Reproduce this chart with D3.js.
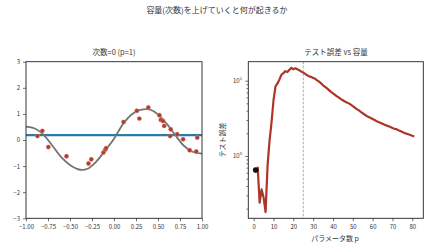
<!DOCTYPE html>
<html>
<head>
<meta charset="utf-8" />
<title></title>
<style>
html, body {
    padding: 0px;
    margin: 0px;
    background: #fff;
}
text {
    font-family: "Noto Sans CJK JP", "DejaVu Sans", sans-serif;
    fill: #333;
}
</style>
</head>
<body>
<svg id="chart" width="434" height="252"></svg>
<script src="https://cdnjs.cloudflare.com/ajax/libs/d3/7.8.5/d3.min.js"></script>
<script>
!(function(){
    "use strict"

    // --- data ---
    var trueX = [-1.0,-0.9,-0.8,-0.7,-0.6,-0.5,-0.4,-0.3,-0.2,-0.1,0.0,0.1,0.2,0.3,0.4,0.5,0.6,0.7,0.8,0.9,1.0];
    var trueY = [0.51,0.44,0.2,-0.22,-0.66,-0.96,-1.13,-1.1,-0.82,-0.4,0.05,0.6,0.98,1.15,1.17,0.98,0.62,0.17,-0.24,-0.46,-0.52];

    var sampleX = [-0.87,-0.814,-0.746,-0.54,-0.29,-0.258,-0.12,-0.10,-0.09,0.108,0.26,0.288,0.39,0.516,0.532,0.557,0.57,0.645,0.638,0.718,0.785,0.86,0.935,0.946];
    var sampleY = [0.15,0.35,-0.27,-0.62,-0.9,-0.74,-0.48,-0.37,-0.31,0.69,1.12,0.82,1.25,0.95,0.77,0.73,0.54,0.41,0.15,0.22,0.03,-0.39,-0.44,0.09];

    var fitLevel = 0.19;

    var params = d3.range(2, 82);
    var testErr = [0.72,0.24,0.36,0.28,0.18,0.75,1.6,2.8,5.5,8.4,9.2,10.4,12.0,12.6,13.4,13.0,14.0,14.8,14.2,14.6,
        14.2,13.8,13.2,12.8,12.3,11.8,11.4,11.2,10.9,10.6,10.1,9.7,9.2,8.7,8.3,7.9,7.5,7.1,6.8,6.5,
        6.2,5.95,5.7,5.5,5.3,5.15,5.0,4.8,4.6,4.4,4.2,4.05,3.85,3.7,3.55,3.4,3.3,3.2,3.1,3.0,
        2.9,2.82,2.75,2.68,2.6,2.55,2.48,2.42,2.36,2.3,2.27,2.2,2.14,2.08,2.02,1.98,1.94,1.9,1.86,1.82];
    var currentP = 1, currentErr = 0.65;
    var nTrain = 25;

    var xTicksLeft = [-1,-0.75,-0.5,-0.25,0,0.25,0.5,0.75,1];
    var yTicksLeft = [-3,-2,-1,0,1,2,3];
    var xTicksRight = [0,10,20,30,40,50,60,70,80];

    var svg = d3.select("#chart");
    var minus = function(s){ return s.replace("-", "\u2212"); };

    svg.append("text").attr("x", 217).attr("y", 13).attr("text-anchor", "middle")
        .attr("font-size", 8).text("容量(次数)を上げていくと何が起きるか");

    // ---------- left panel ----------
    var x1 = d3.scaleLinear().domain([-1, 1]).range([26, 202]);
    var y1 = d3.scaleLinear().domain([-3, 3]).range([218.3, 61.7]);

    var g1 = svg.append("g");
    g1.append("line").attr("x1", x1(-1)).attr("x2", x1(1))
        .attr("y1", y1(fitLevel)).attr("y2", y1(fitLevel))
        .attr("stroke", "#2a7ba6").attr("stroke-width", 2.2);

    var line1 = d3.line().x(function(d){ return x1(d[0]); }).y(function(d){ return y1(d[1]); })
        .curve(d3.curveCatmullRom);
    g1.append("path").datum(d3.zip(trueX, trueY)).attr("d", line1)
        .attr("fill", "none").attr("stroke", "#737373").attr("stroke-width", 1.8);

    g1.selectAll("circle").data(d3.zip(sampleX, sampleY)).enter().append("circle")
        .attr("cx", function(d){ return x1(d[0]); }).attr("cy", function(d){ return y1(d[1]); })
        .attr("r", 2.2).attr("fill", "#b23a2c").attr("stroke", "#e8a89c").attr("stroke-width", 0.4);

    g1.append("g").attr("transform", "translate(0,218.3)")
        .call(d3.axisBottom(x1).tickValues(xTicksLeft).tickSize(3).tickFormat(function(d){ return minus(d3.format(".2f")(d)); }));
    g1.append("g").attr("transform", "translate(26,0)")
        .call(d3.axisLeft(y1).tickValues(yTicksLeft).tickSize(3).tickFormat(function(d){ return minus(String(d)); }));
    g1.append("rect").attr("x", 26).attr("y", 61.7).attr("width", 176).attr("height", 156.6)
        .attr("fill", "none").attr("stroke", "#222").attr("stroke-width", 0.9);
    g1.append("text").attr("x", 114).attr("y", 55).attr("text-anchor", "middle")
        .attr("font-size", 7.5).text("次数=0 (p=1)");

    // ---------- right panel ----------
    var x2 = d3.scaleLinear().domain([-2.72, 85.55]).range([248.3, 423.3]);
    var y2 = d3.scaleLog().domain([0.1488, 17.88]).range([218.3, 61.7]);

    var g2 = svg.append("g");
    g2.append("line").attr("x1", x2(nTrain)).attr("x2", x2(nTrain))
        .attr("y1", 61.7).attr("y2", 218.3)
        .attr("stroke", "#888").attr("stroke-width", 0.7).attr("stroke-dasharray", "2.5,1.5");

    var line2 = d3.line().x(function(d){ return x2(d[0]); }).y(function(d){ return y2(d[1]); });
    g2.append("path").datum(d3.zip(params, testErr)).attr("d", line2)
        .attr("fill", "none").attr("stroke", "#ad3428").attr("stroke-width", 2.2)
        .attr("stroke-linejoin", "round");

    g2.append("circle").attr("cx", x2(currentP)).attr("cy", y2(currentErr)).attr("r", 2.8).attr("fill", "#111");

    g2.append("g").attr("transform", "translate(0,218.3)")
        .call(d3.axisBottom(x2).tickValues(xTicksRight).tickSize(3).tickFormat(d3.format("d")));

    var minorTicks = [0.2,0.3,0.4,0.5,0.6,0.7,0.8,0.9,2,3,4,5,6,7,8,9];
    g2.append("g").attr("transform", "translate(248.3,0)")
        .call(d3.axisLeft(y2).tickValues(minorTicks).tickSize(1.8).tickFormat(""));
    g2.append("g").attr("transform", "translate(248.3,0)")
        .call(d3.axisLeft(y2).tickValues([1, 10]).tickSize(3).tickFormat(""));
    [[1, "0"], [10, "1"]].forEach(function(t){
        var tx = g2.append("text").attr("x", 242).attr("y", y2(t[0]) + 2.2).attr("text-anchor", "end").attr("font-size", 6);
        tx.append("tspan").text("10");
        tx.append("tspan").attr("font-size", 4.2).attr("dy", -2.8).text(t[1]);
    });
    g2.append("rect").attr("x", 248.3).attr("y", 61.7).attr("width", 175).attr("height", 156.6)
        .attr("fill", "none").attr("stroke", "#222").attr("stroke-width", 0.9);
    g2.append("text").attr("x", 336).attr("y", 55).attr("text-anchor", "middle")
        .attr("font-size", 7.5).text("テスト誤差 vs 容量");
    g2.append("text").attr("x", 335).attr("y", 241).attr("text-anchor", "middle")
        .attr("font-size", 7).text("パラメータ数 p");
    g2.append("text").attr("transform", "translate(225,140) rotate(-90)").attr("text-anchor", "middle")
        .attr("font-size", 7).text("テスト誤差");

    // axis styling
    svg.selectAll(".domain").remove();
    svg.selectAll(".tick line").attr("stroke", "#333").attr("stroke-width", 0.7);
    svg.selectAll(".tick text").attr("font-size", 6).attr("fill", "#333")
        .style("font-family", "\"Noto Sans CJK JP\", \"DejaVu Sans\", sans-serif");
}());
</script>
</body>
</html>
